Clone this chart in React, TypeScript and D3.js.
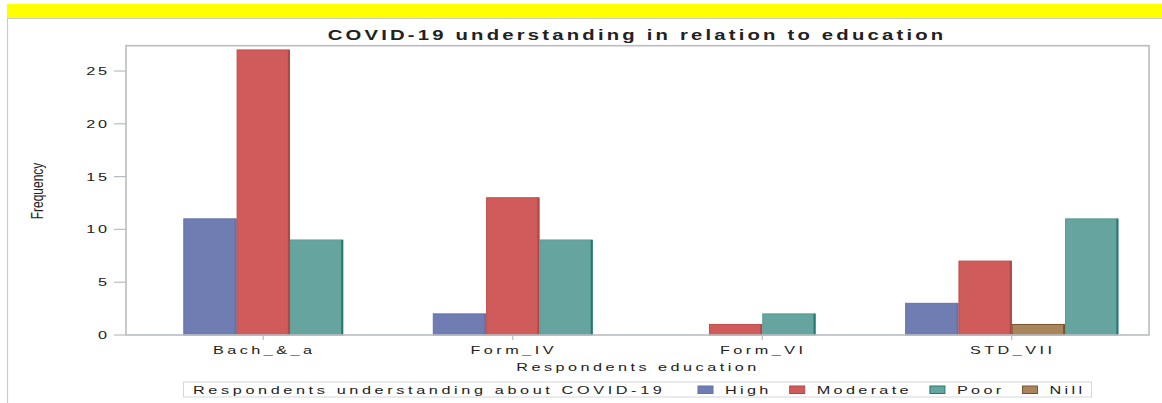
import React from "react";
import * as d3 from "d3";

// data
const categories = ["Bach_&_a", "Form_IV", "Form_VI", "STD_VII"];
const legendOrder = ["High", "Moderate", "Poor", "Nill"];
const barOrder = ["High", "Moderate", "Nill", "Poor"]; // SAS puts the bars alphabetically
const highValues: (number | null)[] = [11, 2, null, 3];
const moderateValues: (number | null)[] = [27, 13, 1, 7];
const poorValues: (number | null)[] = [9, 9, 2, 11];
const nillValues: (number | null)[] = [null, null, null, 1];
const yTicks = [0, 5, 10, 15, 20, 25];

const valuesBySeries: Record<string, (number | null)[]> = {
  High: highValues,
  Moderate: moderateValues,
  Poor: poorValues,
  Nill: nillValues,
};

const fills: Record<string, string> = {
  High: "#6f7db3",
  Moderate: "#d05b5b",
  Poor: "#66a59f",
  Nill: "#a9855b",
};
const edges: Record<string, string> = {
  High: "#6472aa",
  Moderate: "#bf4e4e",
  Poor: "#5a9a94",
  Nill: "#7a5430",
};
const rightEdges: Record<string, string> = {
  High: "#6472aa",
  Moderate: "#b24646",
  Poor: "#1f7b70",
  Nill: "#7a5430",
};

const W = 1162;
const H = 403;
const SX = 1.45; // the picture is stretched sideways, so is its text
const FONT = '"Liberation Sans", Arial, sans-serif';
const plot = { left: 126, right: 1149, top: 45.7, bottom: 335 };
const barW = 53.3;

let ctx: CanvasRenderingContext2D | null = null;
function textWidth(s: string, size: number, spacing: number, weight = "normal") {
  if (!ctx) ctx = document.createElement("canvas").getContext("2d");
  ctx!.font = `${weight} ${size}px ${FONT}`;
  return SX * (ctx!.measureText(s).width + spacing * s.length);
}

type TxtProps = {
  x: number;
  y: number;
  size: number;
  spacing: number;
  anchor?: "start" | "middle" | "end";
  weight?: string;
  children: string;
};
const Txt: React.FC<TxtProps> = ({ x, y, size, spacing, anchor = "start", weight = "normal", children }) => (
  <text
    transform={`translate(${x},${y}) scale(${SX},1)`}
    textAnchor={anchor}
    fontSize={size}
    fontWeight={weight}
    fontFamily={FONT}
    fill="#222"
    style={{ letterSpacing: `${spacing}px` }}
  >
    {children}
  </text>
);

const App: React.FC = () => {
  const x = d3
    .scalePoint<string>()
    .domain(categories)
    .range([plot.left + 12.5, plot.right - 12.5])
    .padding(0.5);
  const y = d3.scaleLinear().domain([0, 27.4]).range([plot.bottom, plot.top]);

  const bars = categories.flatMap((cat, ci) => {
    const present = barOrder.filter((s) => valuesBySeries[s][ci] != null);
    const n = present.length;
    return present.map((s, i) => ({
      key: `${cat}-${s}`,
      series: s,
      x: x(cat)! + (i - n / 2) * barW,
      value: valuesBySeries[s][ci] as number,
    }));
  });

  // legend laid out left to right from measured text
  const legFs = 11.2;
  const legLs = 2.3;
  let cursor = 698;
  const legendItems = legendOrder.map((s) => {
    const item = { s, sw: cursor, tx: cursor + 27 };
    cursor = item.tx + textWidth(s, legFs, legLs) + 18;
    return item;
  });

  return (
    <svg width={W} height={H} style={{ position: "absolute", left: 0, top: 0, background: "#fff" }}>
      {/* outer band and frame */}
      <rect x={7} y={4} width={W - 7} height={14} fill="#ffff00" />
      <line x1={7} x2={W} y1={18.5} y2={18.5} stroke="#c8cbcf" strokeWidth={1.2} />
      <line x1={7.5} x2={7.5} y1={18} y2={H} stroke="#c8cbcf" strokeWidth={1.2} />

      <Txt x={637} y={39.5} size={14} spacing={2.2} anchor="middle" weight="bold">
        COVID-19 understanding in relation to education
      </Txt>

      {/* bars */}
      {bars.map((b) => (
        <g key={b.key}>
          <rect
            x={b.x + 0.5}
            y={y(b.value)}
            width={barW - 1}
            height={plot.bottom - y(b.value)}
            fill={fills[b.series]}
            stroke={edges[b.series]}
            strokeWidth={1}
          />
          <line
            x1={b.x + barW - 1}
            x2={b.x + barW - 1}
            y1={y(b.value)}
            y2={plot.bottom}
            stroke={rightEdges[b.series]}
            strokeWidth={2}
          />
        </g>
      ))}

      {/* plot frame */}
      <rect
        x={plot.left}
        y={plot.top}
        width={plot.right - plot.left}
        height={plot.bottom - plot.top}
        fill="none"
        stroke="#b9bdc1"
        strokeWidth={1.6}
      />

      {/* y axis */}
      {yTicks.map((t) => (
        <g key={t}>
          <line x1={114} x2={plot.left} y1={y(t)} y2={y(t)} stroke="#b9bdc1" strokeWidth={1.2} />
          <Txt x={110} y={y(t) + 4} size={11.2} spacing={2} anchor="end">
            {String(t)}
          </Txt>
        </g>
      ))}
      <text
        transform={`translate(42.5,191) rotate(-90) scale(1,${SX})`}
        textAnchor="middle"
        fontSize={12}
        fontFamily={FONT}
        fill="#222"
      >
        Frequency
      </text>

      {/* x axis */}
      {categories.map((c) => (
        <g key={c}>
          <line x1={x(c)!} x2={x(c)!} y1={plot.bottom} y2={plot.bottom + 5} stroke="#b9bdc1" strokeWidth={1.2} />
          <Txt x={x(c)! + 1} y={353.5} size={11.2} spacing={2.4} anchor="middle">
            {c}
          </Txt>
        </g>
      ))}
      <Txt x={638} y={371} size={11.2} spacing={2.4} anchor="middle">
        Respondents education
      </Txt>

      {/* legend */}
      <rect x={183.5} y={382} width={908} height={15} fill="#fff" stroke="#d4d6d9" strokeWidth={1} />
      <Txt x={193} y={393.5} size={legFs} spacing={2.5}>
        Respondents understanding about COVID-19
      </Txt>
      {legendItems.map((it) => (
        <g key={it.s}>
          <rect x={it.sw} y={386} width={15} height={7.5} fill={fills[it.s]} stroke={rightEdges[it.s]} strokeWidth={1} />
          <Txt x={it.tx} y={393.5} size={legFs} spacing={legLs}>
            {it.s}
          </Txt>
        </g>
      ))}
    </svg>
  );
};

export default App;
